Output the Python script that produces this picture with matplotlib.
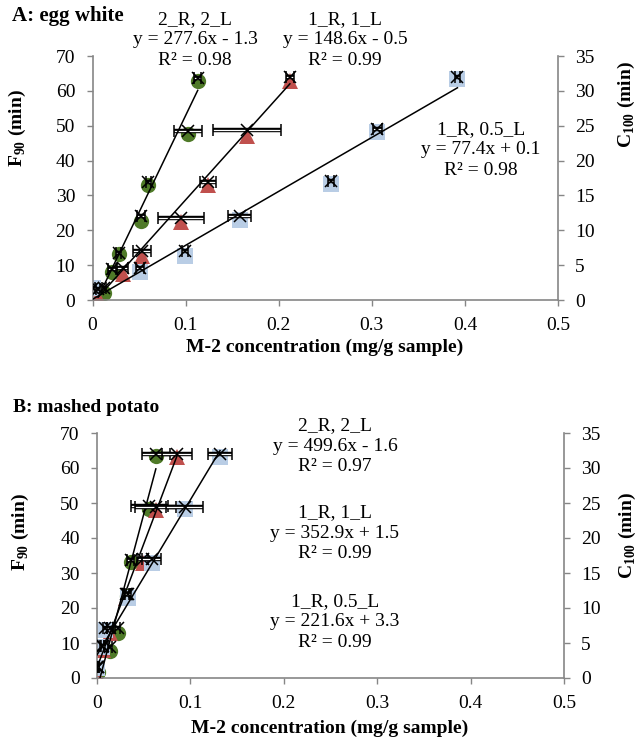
import matplotlib
matplotlib.use('Agg')
import matplotlib.pyplot as plt
import matplotlib.patheffects as pe
import numpy as np

plt.rcParams['font.family'] = ['Liberation Serif', 'DejaVu Serif']
plt.rcParams['mathtext.fontset'] = 'custom'
plt.rcParams['mathtext.rm'] = 'Liberation Serif'
plt.rcParams['mathtext.bf'] = 'Liberation Serif:bold'

#%%
# series labels and trendline equations
series_names = ['2_R, 2_L', '1_R, 1_L', '1_R, 0.5_L']

a_slope = [277.6, 148.6, 77.4]
a_icpt = [-1.3, -0.5, 0.1]
a_r2 = [0.98, 0.99, 0.98]

b_slope = [499.6, 352.9, 221.6]
b_icpt = [-1.6, 1.5, 3.3]
b_r2 = [0.97, 0.99, 0.99]

# A: egg white  (x = M-2 conc, f90 on left axis, c100 on right axis)
a_x_green = [0.012, 0.021, 0.028, 0.052, 0.060, 0.103, 0.113]
a_f90_green = [2.1, 8.1, 13.1, 22.7, 33.0, 47.6, 62.9]
a_c100_green = [1.7, 4.5, 6.7, 12.1, 16.9, 24.3, 31.8]
a_err_green = [0.002, 0.004, 0.003, 0.004, 0.003, 0.015, 0.004]

a_x_red = [0.006, 0.0325, 0.053, 0.095, 0.124, 0.166, 0.212]
a_f90_red = [1.0, 7.4, 12.6, 22.4, 32.9, 47.1, 62.9]
a_c100_red = [1.6, 4.6, 7.1, 11.7, 16.9, 24.4, 32.0]
a_err_red = [0.002, 0.006, 0.010, 0.025, 0.009, 0.037, 0.004]

a_x_blue = [0.001, 0.051, 0.0995, 0.158, 0.256, 0.306, 0.392]
a_f90_blue = [3.4, 8.1, 12.6, 22.9, 33.3, 48.3, 63.3]
a_c100_blue = [1.7, 4.6, 7.1, 12.1, 17.0, 24.5, 32.0]
a_err_blue = [0.002, 0.004, 0.003, 0.012, 0.003, 0.005, 0.003]

# B: mashed potato
b_x_green = [0.001, 0.014, 0.022, 0.032, 0.036, 0.056, 0.063]
b_f90_green = [1.8, 7.8, 12.9, 23.5, 33.2, 48.3, 63.4]
b_c100_green = [1.6, 4.5, 7.1, 12.0, 16.8, 24.6, 32.0]
b_err_green = [0.001, 0.002, 0.003, 0.003, 0.004, 0.020, 0.015]

b_x_red = [0.001, 0.006, 0.014, 0.031, 0.049, 0.063, 0.086]
b_f90_red = [0.4, 8.0, 13.0, 22.8, 32.9, 48.0, 63.2]
b_c100_red = [1.6, 4.6, 7.1, 12.0, 17.0, 24.5, 32.0]
b_err_red = [0.001, 0.002, 0.003, 0.003, 0.006, 0.022, 0.016]

b_x_blue = [0.000, 0.005, 0.0086, 0.0335, 0.0586, 0.094, 0.1317]
b_f90_blue = [2.9, 8.9, 13.7, 22.9, 32.8, 48.3, 63.2]
b_c100_blue = [1.6, 4.6, 7.1, 12.0, 17.0, 24.5, 32.0]
b_err_blue = [0.001, 0.002, 0.002, 0.003, 0.010, 0.020, 0.013]

x_ticks = [0, 0.1, 0.2, 0.3, 0.4, 0.5]
x_ticklabels = ['0', '0.1', '0.2', '0.3', '0.4', '0.5']

#%%
colors = ['#4f7a28', '#c0504d', '#b9cde5']
markers = ['o', '^', 's']
spine_col = '#868686'
fs = 14

fig = plt.figure(figsize=(6.38, 7.48), dpi=100)


def draw_panel(rect, xs, f90s, c100s, errs, slopes, icpts):
    ax = fig.add_axes(rect)
    ax2 = ax.twinx()

    for i in range(3):
        ax.plot(xs[i], f90s[i], linestyle='none', marker=markers[i],
                color=colors[i], markersize=11, markeredgewidth=0)

    for i in range(3):
        # double-line error bars
        eb = ax2.errorbar(xs[i], c100s[i], xerr=errs[i], fmt='none',
                          ecolor='white', elinewidth=0.9, capsize=4,
                          capthick=1.1)
        for coll in eb.lines[2]:
            coll.set_path_effects([pe.Stroke(linewidth=3.2, foreground='black'),
                                   pe.Normal()])
        for cap in eb.lines[1]:
            cap.set_color('black')
            cap.set_markeredgecolor('black')
        ax2.plot(xs[i], c100s[i], linestyle='none', marker='x', color='black',
                 markersize=9, markeredgewidth=1.1)
        xx = np.array([min(xs[i]), max(xs[i])])
        ax2.plot(xx, slopes[i] * xx + icpts[i], color='black', linewidth=1.1)

    ax.set_xlim(0, 0.5)
    ax.set_ylim(0, 70)
    ax2.set_ylim(0, 35)
    ax.set_xticks(x_ticks)
    ax.set_xticklabels(x_ticklabels)
    ax.set_yticks(np.arange(0, 71, 10))
    ax2.set_yticks(np.arange(0, 36, 5))

    for a in (ax, ax2):
        a.spines['top'].set_visible(False)
        for s in ('left', 'right', 'bottom'):
            a.spines[s].set_color(spine_col)
            a.spines[s].set_linewidth(1.2)
        a.tick_params(length=4.5, width=1.0, color=spine_col, labelsize=fs,
                      pad=8, direction='out')
    ax2.spines['left'].set_visible(False)
    ax2.spines['bottom'].set_visible(False)
    ax.spines['right'].set_visible(False)
    ax.set_zorder(1)
    ax2.set_zorder(2)
    ax.patch.set_visible(False)
    return ax, ax2


def px(x, y):
    # pixel position -> figure fraction
    return x / 638.0, 1 - y / 748.0


def eq_text(name, slope, icpt, r2):
    sign = '+' if icpt >= 0 else '-'
    return '%s\ny = %.1fx %s %.1f\nR\u00b2 = %.2f' % (name, slope, sign, abs(icpt), r2)


# ---------- A ----------
axA, axA2 = draw_panel([92.5 / 638, 1 - 300 / 748, 465.5 / 638, 244 / 748],
                       [a_x_green, a_x_red, a_x_blue],
                       [a_f90_green, a_f90_red, a_f90_blue],
                       [a_c100_green, a_c100_red, a_c100_blue],
                       [a_err_green, a_err_red, a_err_blue],
                       a_slope, a_icpt)

a_txt_pos = [(195, 40), (345, 40), (481, 150)]
for i in range(3):
    fig.text(*px(*a_txt_pos[i]), eq_text(series_names[i], a_slope[i], a_icpt[i], a_r2[i]),
             ha='center', va='center', fontsize=fs, linespacing=1.25)

fig.text(*px(12, 16), 'A: egg white', fontsize=15, fontweight='bold',
         ha='left', va='center')
fig.text(*px(325, 347), 'M-2 concentration (mg/g sample)', fontsize=fs,
         fontweight='bold', ha='center', va='center')
fig.text(*px(17, 128), r'F$_{\mathbf{90}}$ (min)', fontsize=fs, fontweight='bold',
         rotation=90, ha='center', va='center')
fig.text(*px(626, 105), r'C$_{\mathbf{100}}$ (min)', fontsize=fs, fontweight='bold',
         rotation=90, ha='center', va='center')

# ---------- B ----------
axB, axB2 = draw_panel([97 / 638, 1 - 678 / 748, 467 / 638, 245 / 748],
                       [b_x_green, b_x_red, b_x_blue],
                       [b_f90_green, b_f90_red, b_f90_blue],
                       [b_c100_green, b_c100_red, b_c100_blue],
                       [b_err_green, b_err_red, b_err_blue],
                       b_slope, b_icpt)

b_txt_pos = [(335, 446), (335, 533), (335, 622)]
for i in range(3):
    fig.text(*px(*b_txt_pos[i]), eq_text(series_names[i], b_slope[i], b_icpt[i], b_r2[i]),
             ha='center', va='center', fontsize=fs, linespacing=1.25)

fig.text(*px(13, 408), 'B: mashed potato', fontsize=fs, fontweight='bold',
         ha='left', va='center')
fig.text(*px(330, 728), 'M-2 concentration (mg/g sample)', fontsize=fs,
         fontweight='bold', ha='center', va='center')
fig.text(*px(20, 532), r'F$_{\mathbf{90}}$ (min)', fontsize=fs, fontweight='bold',
         rotation=90, ha='center', va='center')
fig.text(*px(627, 536), r'C$_{\mathbf{100}}$ (min)', fontsize=fs, fontweight='bold',
         rotation=90, ha='center', va='center')

plt.savefig('out.png', dpi=100)
